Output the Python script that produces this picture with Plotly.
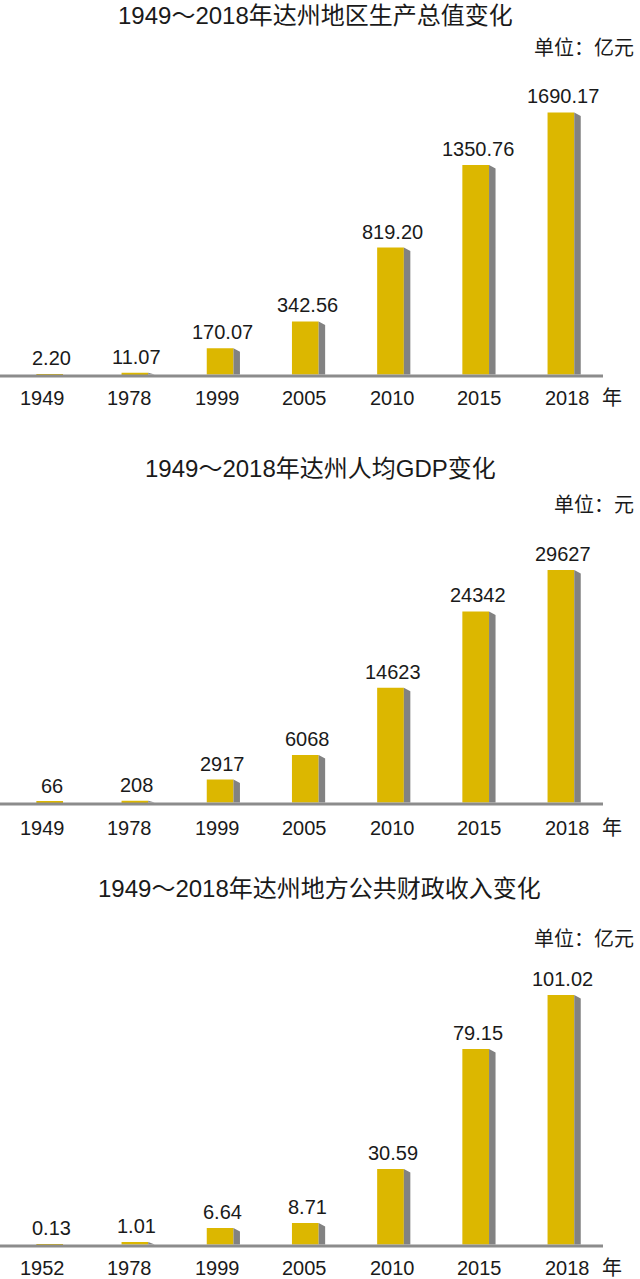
import plotly.graph_objects as go

# ---------------- data ----------------
years_gdp = ["1949", "1978", "1999", "2005", "2010", "2015", "2018"]
gdp = [2.20, 11.07, 170.07, 342.56, 819.20, 1350.76, 1690.17]
gdp_text = ["2.20", "11.07", "170.07", "342.56", "819.20", "1350.76", "1690.17"]

years_pc = ["1949", "1978", "1999", "2005", "2010", "2015", "2018"]
gdp_pc = [66, 208, 2917, 6068, 14623, 24342, 29627]
gdp_pc_text = ["66", "208", "2917", "6068", "14623", "24342", "29627"]

years_rev = ["1952", "1978", "1999", "2005", "2010", "2015", "2018"]
revenue = [0.13, 1.01, 6.64, 8.71, 30.59, 79.15, 101.02]
revenue_text = ["0.13", "1.01", "6.64", "8.71", "30.59", "79.15", "101.02"]

titles = ["1949～2018年达州地区生产总值变化",
          "1949～2018年达州人均GDP变化",
          "1949～2018年达州地方公共财政收入变化"]
units = ["单位：亿元", "单位：元", "单位：亿元"]
year_suffix = "年"

# ---------------- style / layout ----------------
W, H = 640, 1279
YELLOW = "#DCB700"
SIDE = "#828282"
AXIS = "#8c8c8c"
TXT = "#1a1a1a"
FONT = "Liberation Sans, Arial, Noto Sans CJK SC, sans-serif"

PITCH = 85.2          # px between bars
BAR0 = 49.7           # px centre of first bar
LAB_PITCH = 87.5      # px between year labels
LAB0 = 42.0           # px centre of first year label
BAR_W_PX = 26.7
SIDE_W_PX = 6.5
SLANT_PX = 3.5
AXIS_END_PX = 603
AXIS_W = 3

xrange_ = [-BAR0 / PITCH, (W - BAR0) / PITCH]
bar_w = BAR_W_PX / PITCH
side_w = SIDE_W_PX / PITCH

# baseline px (top of axis line), tallest-bar top px, domain top px,
# title px, unit px, year-label px, title x px
geo = [
    (374.5, 112.5, 55, 16, 48, 398, 315),
    (802.5, 570, 520, 468, 505, 828, 320),
    (1244.5, 995, 925, 888, 939, 1268, 319),
]

panels = [
    (years_gdp, gdp, gdp_text),
    (years_pc, gdp_pc, gdp_pc_text),
    (years_rev, revenue, revenue_text),
]


def py(px):
    return 1 - px / H


fig = go.Figure()
annotations = []
shapes = []
layout_axes = {}

for k, ((years, vals, texts), (base, maxtop, domtop, t_px, u_px, l_px, t_x)) in enumerate(zip(panels, geo), start=1):
    xa = "x" if k == 1 else f"x{k}"
    ya = "y" if k == 1 else f"y{k}"
    vmax = max(vals)
    unit_per_px = vmax / (base - maxtop)
    yr = [-10 * unit_per_px, (base - domtop) * unit_per_px]
    layout_axes["xaxis" if k == 1 else f"xaxis{k}"] = dict(
        range=xrange_, visible=False, anchor=ya, domain=[0, 1], fixedrange=True)
    layout_axes["yaxis" if k == 1 else f"yaxis{k}"] = dict(
        range=yr, visible=False, anchor=xa, domain=[py(base + 10), py(domtop)], fixedrange=True)

    xs = list(range(len(vals)))
    # 3D side faces (grey parallelograms)
    sx, sy = [], []
    dy = SLANT_PX * unit_per_px
    for i, v in zip(xs, vals):
        x0 = i + bar_w / 2
        x1 = x0 + side_w
        sx += [x0, x1, x1, x0, x0, None]
        sy += [v, max(v - dy, 0), 0, 0, v, None]
    fig.add_trace(go.Scatter(x=sx, y=sy, mode="lines", fill="toself",
                             fillcolor=SIDE, line=dict(width=0, color=SIDE),
                             hoverinfo="skip", showlegend=False, xaxis=xa, yaxis=ya))
    # front faces
    fig.add_trace(go.Bar(x=xs, y=vals, width=bar_w, marker=dict(color=YELLOW, line=dict(width=0)),
                         hoverinfo="skip", showlegend=False, xaxis=xa, yaxis=ya))

    # axis line (sits just under the bars)
    ly = -AXIS_W / 2 * unit_per_px
    shapes.append(dict(type="line", xref="paper", yref=ya, x0=0, x1=AXIS_END_PX / W, y0=ly, y1=ly,
                       line=dict(color=AXIS, width=AXIS_W), layer="above"))

    # value labels
    for i, (v, t) in enumerate(zip(vals, texts)):
        annotations.append(dict(x=i, y=v, xref=xa, yref=ya, text=t, showarrow=False,
                                xanchor="center", yanchor="middle", xshift=2, yshift=16,
                                font=dict(size=20, color=TXT, family=FONT)))
    # year labels
    for i, yname in enumerate(years):
        annotations.append(dict(x=(LAB0 + LAB_PITCH * i) / W, y=py(l_px), xref="paper", yref="paper",
                                text=yname, showarrow=False, xanchor="center", yanchor="middle",
                                font=dict(size=20, color=TXT, family=FONT)))
    annotations.append(dict(x=612 / W, y=py(l_px), xref="paper", yref="paper", text=year_suffix,
                            showarrow=False, xanchor="center", yanchor="middle",
                            font=dict(size=20, color=TXT, family=FONT)))
    # title
    annotations.append(dict(x=t_x / W, y=py(t_px), xref="paper", yref="paper", text=titles[k - 1],
                            showarrow=False, xanchor="center", yanchor="middle",
                            font=dict(size=24, color=TXT, family=FONT)))
    # unit
    annotations.append(dict(x=636 / W, y=py(u_px), xref="paper", yref="paper", text=units[k - 1],
                            showarrow=False, xanchor="right", yanchor="middle",
                            font=dict(size=20, color=TXT, family=FONT)))

fig.update_layout(
    width=W, height=H, margin=dict(l=0, r=0, t=0, b=0),
    paper_bgcolor="white", plot_bgcolor="rgba(0,0,0,0)",
    barmode="overlay", showlegend=False,
    annotations=annotations, shapes=shapes,
    **layout_axes,
)

fig.write_html("out.html", config={"displayModeBar": False})
